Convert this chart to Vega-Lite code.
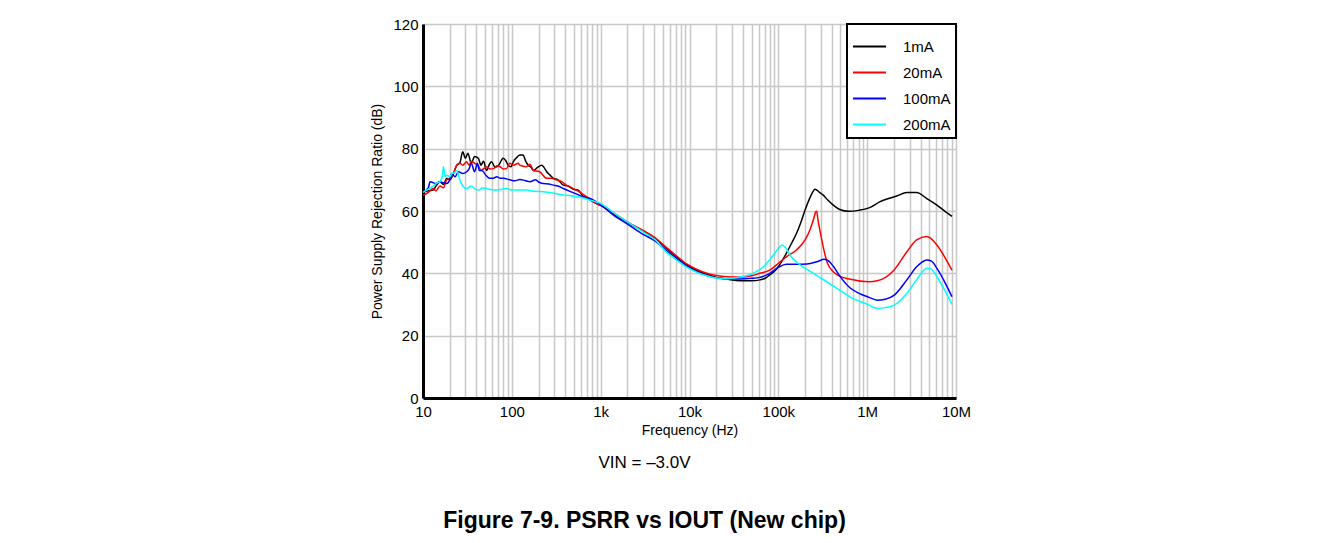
{
  "$schema": "https://vega.github.io/schema/vega-lite/v6.json",
  "width": 533,
  "height": 374,
  "autosize": {"type": "none"},
  "padding": {"left": 423, "top": 24, "right": 377, "bottom": 145},
  "background": "white",
  "config": {
    "font": "Liberation Sans",
    "view": {"stroke": "#8c8c8c", "strokeWidth": 1},
    "axis": {
      "domainColor": "black",
      "domainWidth": 3,
      "ticks": false,
      "labelFontSize": 15,
      "labelColor": "black",
      "labelFont": "Liberation Sans",
      "titleFont": "Liberation Sans",
      "titleFontSize": 14,
      "titleFontWeight": "normal",
      "titleColor": "black",
      "gridColor": "#c8c8c8",
      "gridWidth": 1.5,
      "labelFlush": false,
      "labelOverlap": false
    },
    "legend": {"strokeWidth": 2}
  },
  "title": {
    "text": "VIN = –3.0V",
    "subtitle": "Figure 7-9. PSRR vs IOUT (New chip)",
    "orient": "bottom",
    "anchor": "middle",
    "frame": "group",
    "dx": -45,
    "offset": 18,
    "font": "Liberation Sans",
    "fontSize": 17,
    "fontWeight": "normal",
    "color": "black",
    "subtitleFont": "Liberation Sans",
    "subtitleFontSize": 23,
    "subtitleFontWeight": "bold",
    "subtitleColor": "black",
    "subtitlePadding": 38
  },
  "data": {
    "values": [
      {"s":"1mA","f":10,"v":66},{"s":"1mA","f":11.5,"v":66.5},{"s":"1mA","f":13,"v":66.7},{"s":"1mA","f":14,"v":68},{"s":"1mA","f":15.5,"v":69.4},{"s":"1mA","f":17,"v":68.5},{"s":"1mA","f":18.5,"v":70.5},{"s":"1mA","f":20,"v":70},{"s":"1mA","f":22,"v":72},{"s":"1mA","f":24,"v":74.7},{"s":"1mA","f":26,"v":75.5},{"s":"1mA","f":28,"v":79},{"s":"1mA","f":30,"v":76.9},{"s":"1mA","f":32,"v":78.5},{"s":"1mA","f":35,"v":75.3},{"s":"1mA","f":38,"v":77.5},{"s":"1mA","f":42,"v":76.9},{"s":"1mA","f":45,"v":74.7},{"s":"1mA","f":48,"v":76},{"s":"1mA","f":52,"v":73},{"s":"1mA","f":56,"v":75},{"s":"1mA","f":59,"v":75.8},{"s":"1mA","f":65,"v":74},{"s":"1mA","f":71,"v":74.7},{"s":"1mA","f":80,"v":76.9},{"s":"1mA","f":86,"v":76},{"s":"1mA","f":91,"v":74.7},{"s":"1mA","f":98,"v":74.2},{"s":"1mA","f":104,"v":75.8},{"s":"1mA","f":112,"v":77},{"s":"1mA","f":123,"v":78},{"s":"1mA","f":134,"v":78},{"s":"1mA","f":143,"v":76},{"s":"1mA","f":153,"v":74.7},{"s":"1mA","f":165,"v":74},{"s":"1mA","f":175,"v":73},{"s":"1mA","f":195,"v":74},{"s":"1mA","f":217,"v":74.7},{"s":"1mA","f":230,"v":74},{"s":"1mA","f":247,"v":72.6},{"s":"1mA","f":270,"v":71.5},{"s":"1mA","f":294,"v":70.5},{"s":"1mA","f":330,"v":70},{"s":"1mA","f":380,"v":68.3},{"s":"1mA","f":430,"v":68},{"s":"1mA","f":492,"v":67},{"s":"1mA","f":560,"v":66.7},{"s":"1mA","f":640,"v":64.6},{"s":"1mA","f":720,"v":64},{"s":"1mA","f":800,"v":63.2},{"s":"1mA","f":900,"v":62.4},{"s":"1mA","f":1000,"v":61.8},{"s":"1mA","f":1500,"v":58.5},{"s":"1mA","f":2000,"v":56.3},{"s":"1mA","f":3000,"v":53.6},{"s":"1mA","f":4000,"v":51.5},{"s":"1mA","f":5500,"v":48},{"s":"1mA","f":7000,"v":45.5},{"s":"1mA","f":9300,"v":42.7},{"s":"1mA","f":12000,"v":41},{"s":"1mA","f":15700,"v":39.6},{"s":"1mA","f":20000,"v":38.7},{"s":"1mA","f":26000,"v":38.2},{"s":"1mA","f":37000,"v":37.6},{"s":"1mA","f":50000,"v":37.6},{"s":"1mA","f":62000,"v":37.9},{"s":"1mA","f":72000,"v":38.5},{"s":"1mA","f":80000,"v":39.5},{"s":"1mA","f":90000,"v":40.6},{"s":"1mA","f":100000,"v":42.1},{"s":"1mA","f":123000,"v":46.4},{"s":"1mA","f":140000,"v":49.5},{"s":"1mA","f":160000,"v":52.8},{"s":"1mA","f":180000,"v":56.5},{"s":"1mA","f":200000,"v":60.3},{"s":"1mA","f":230000,"v":64.6},{"s":"1mA","f":259000,"v":67},{"s":"1mA","f":290000,"v":66},{"s":"1mA","f":320000,"v":65.1},{"s":"1mA","f":360000,"v":63.5},{"s":"1mA","f":415000,"v":61.9},{"s":"1mA","f":490000,"v":60.5},{"s":"1mA","f":620000,"v":59.9},{"s":"1mA","f":800000,"v":60.2},{"s":"1mA","f":1050000,"v":61},{"s":"1mA","f":1400000,"v":63},{"s":"1mA","f":2150000,"v":64.8},{"s":"1mA","f":2800000,"v":65.9},{"s":"1mA","f":3600000,"v":65.9},{"s":"1mA","f":4700000,"v":64},{"s":"1mA","f":6100000,"v":61.9},{"s":"1mA","f":7600000,"v":59.8},{"s":"1mA","f":9000000,"v":58.3},

      {"s":"20mA","f":10,"v":65},{"s":"20mA","f":11.5,"v":66},{"s":"20mA","f":13,"v":67.2},{"s":"20mA","f":14,"v":66.5},{"s":"20mA","f":15.5,"v":68},{"s":"20mA","f":17,"v":67.5},{"s":"20mA","f":18.5,"v":70},{"s":"20mA","f":20,"v":70.5},{"s":"20mA","f":22,"v":72},{"s":"20mA","f":24,"v":74.7},{"s":"20mA","f":26,"v":75.3},{"s":"20mA","f":28,"v":74.7},{"s":"20mA","f":31,"v":75.8},{"s":"20mA","f":33,"v":74.7},{"s":"20mA","f":35,"v":76},{"s":"20mA","f":38,"v":75.3},{"s":"20mA","f":42,"v":74.5},{"s":"20mA","f":45,"v":73},{"s":"20mA","f":52,"v":74.2},{"s":"20mA","f":57,"v":73.5},{"s":"20mA","f":62,"v":73.6},{"s":"20mA","f":68,"v":74.5},{"s":"20mA","f":74,"v":74.2},{"s":"20mA","f":80,"v":73.5},{"s":"20mA","f":87,"v":73.6},{"s":"20mA","f":95,"v":75.3},{"s":"20mA","f":104,"v":74.7},{"s":"20mA","f":118,"v":75.3},{"s":"20mA","f":123,"v":74.7},{"s":"20mA","f":145,"v":74.2},{"s":"20mA","f":160,"v":75},{"s":"20mA","f":175,"v":73},{"s":"20mA","f":205,"v":72.6},{"s":"20mA","f":247,"v":70.5},{"s":"20mA","f":280,"v":70.5},{"s":"20mA","f":315,"v":70},{"s":"20mA","f":360,"v":69.5},{"s":"20mA","f":410,"v":68.3},{"s":"20mA","f":470,"v":67.5},{"s":"20mA","f":530,"v":66.7},{"s":"20mA","f":600,"v":65.8},{"s":"20mA","f":690,"v":64.6},{"s":"20mA","f":800,"v":63.5},{"s":"20mA","f":900,"v":62.4},{"s":"20mA","f":1000,"v":61.8},{"s":"20mA","f":1500,"v":58.8},{"s":"20mA","f":2000,"v":56.5},{"s":"20mA","f":3000,"v":53.8},{"s":"20mA","f":4000,"v":51.6},{"s":"20mA","f":5500,"v":48.3},{"s":"20mA","f":7000,"v":45.8},{"s":"20mA","f":9300,"v":43},{"s":"20mA","f":12000,"v":41.3},{"s":"20mA","f":15700,"v":40},{"s":"20mA","f":20000,"v":39.3},{"s":"20mA","f":26000,"v":38.9},{"s":"20mA","f":37000,"v":38.8},{"s":"20mA","f":50000,"v":39.2},{"s":"20mA","f":62000,"v":40},{"s":"20mA","f":80000,"v":41},{"s":"20mA","f":100000,"v":43.2},{"s":"20mA","f":123000,"v":45.3},{"s":"20mA","f":160000,"v":47.5},{"s":"20mA","f":200000,"v":50.7},{"s":"20mA","f":230000,"v":54.4},{"s":"20mA","f":250000,"v":57.5},{"s":"20mA","f":262000,"v":59.6},{"s":"20mA","f":270000,"v":59.9},{"s":"20mA","f":280000,"v":57},{"s":"20mA","f":300000,"v":52.5},{"s":"20mA","f":320000,"v":48.5},{"s":"20mA","f":355000,"v":43.5},{"s":"20mA","f":415000,"v":40.5},{"s":"20mA","f":480000,"v":39.2},{"s":"20mA","f":650000,"v":38.1},{"s":"20mA","f":1050000,"v":37.3},{"s":"20mA","f":1300000,"v":37.6},{"s":"20mA","f":2000000,"v":41},{"s":"20mA","f":2800000,"v":46.9},{"s":"20mA","f":3600000,"v":50.7},{"s":"20mA","f":4700000,"v":51.8},{"s":"20mA","f":6100000,"v":49.1},{"s":"20mA","f":7600000,"v":44.8},{"s":"20mA","f":9000000,"v":41},

      {"s":"100mA","f":10,"v":66},{"s":"100mA","f":11.5,"v":67.5},{"s":"100mA","f":12,"v":69.4},{"s":"100mA","f":14,"v":68.8},{"s":"100mA","f":15.5,"v":69.4},{"s":"100mA","f":17,"v":69},{"s":"100mA","f":18.5,"v":68.8},{"s":"100mA","f":20,"v":70},{"s":"100mA","f":21,"v":72},{"s":"100mA","f":23,"v":71},{"s":"100mA","f":25,"v":72.6},{"s":"100mA","f":28,"v":72},{"s":"100mA","f":31,"v":72.6},{"s":"100mA","f":33,"v":73.5},{"s":"100mA","f":35,"v":75.3},{"s":"100mA","f":38,"v":72.6},{"s":"100mA","f":41,"v":75.3},{"s":"100mA","f":43,"v":73},{"s":"100mA","f":46,"v":73},{"s":"100mA","f":51,"v":71.5},{"s":"100mA","f":56,"v":70.5},{"s":"100mA","f":62,"v":70.5},{"s":"100mA","f":68,"v":71},{"s":"100mA","f":74,"v":70.5},{"s":"100mA","f":80,"v":70.5},{"s":"100mA","f":95,"v":70},{"s":"100mA","f":108,"v":69.7},{"s":"100mA","f":123,"v":70.1},{"s":"100mA","f":140,"v":69.8},{"s":"100mA","f":160,"v":69.4},{"s":"100mA","f":185,"v":70},{"s":"100mA","f":200,"v":69.3},{"s":"100mA","f":225,"v":68.8},{"s":"100mA","f":260,"v":68.7},{"s":"100mA","f":294,"v":68.3},{"s":"100mA","f":330,"v":68},{"s":"100mA","f":380,"v":67.2},{"s":"100mA","f":450,"v":66.3},{"s":"100mA","f":530,"v":65.5},{"s":"100mA","f":640,"v":64.5},{"s":"100mA","f":760,"v":64},{"s":"100mA","f":870,"v":63.2},{"s":"100mA","f":1000,"v":62},{"s":"100mA","f":1500,"v":58},{"s":"100mA","f":2000,"v":55.8},{"s":"100mA","f":3000,"v":52.5},{"s":"100mA","f":4000,"v":50.6},{"s":"100mA","f":5500,"v":47.3},{"s":"100mA","f":7000,"v":45},{"s":"100mA","f":9300,"v":42.3},{"s":"100mA","f":12000,"v":40.6},{"s":"100mA","f":15700,"v":39.3},{"s":"100mA","f":20000,"v":38.6},{"s":"100mA","f":26000,"v":38.2},{"s":"100mA","f":37000,"v":38.2},{"s":"100mA","f":50000,"v":38.4},{"s":"100mA","f":62000,"v":38.7},{"s":"100mA","f":80000,"v":40},{"s":"100mA","f":100000,"v":41.9},{"s":"100mA","f":123000,"v":42.9},{"s":"100mA","f":160000,"v":42.9},{"s":"100mA","f":210000,"v":43},{"s":"100mA","f":270000,"v":43.7},{"s":"100mA","f":330000,"v":44.5},{"s":"100mA","f":370000,"v":43.9},{"s":"100mA","f":420000,"v":42.1},{"s":"100mA","f":490000,"v":39.2},{"s":"100mA","f":650000,"v":35.2},{"s":"100mA","f":850000,"v":33.3},{"s":"100mA","f":1050000,"v":32.3},{"s":"100mA","f":1290000,"v":31.4},{"s":"100mA","f":1600000,"v":31.7},{"s":"100mA","f":2020000,"v":33},{"s":"100mA","f":2800000,"v":37.9},{"s":"100mA","f":3600000,"v":42.1},{"s":"100mA","f":4700000,"v":44.3},{"s":"100mA","f":5300000,"v":43.9},{"s":"100mA","f":6100000,"v":41.6},{"s":"100mA","f":7600000,"v":36.8},{"s":"100mA","f":9000000,"v":32.5},

      {"s":"200mA","f":10,"v":66},{"s":"200mA","f":11.5,"v":67},{"s":"200mA","f":13,"v":68},{"s":"200mA","f":14,"v":68.8},{"s":"200mA","f":15.5,"v":69.4},{"s":"200mA","f":16.5,"v":71},{"s":"200mA","f":17,"v":74.2},{"s":"200mA","f":17.8,"v":71},{"s":"200mA","f":18.5,"v":71.5},{"s":"200mA","f":20,"v":71},{"s":"200mA","f":21,"v":72},{"s":"200mA","f":22.5,"v":72.2},{"s":"200mA","f":24,"v":73},{"s":"200mA","f":26,"v":70},{"s":"200mA","f":28,"v":68},{"s":"200mA","f":31,"v":67.2},{"s":"200mA","f":35,"v":68},{"s":"200mA","f":39,"v":67},{"s":"200mA","f":43,"v":66.7},{"s":"200mA","f":47,"v":67.5},{"s":"200mA","f":52,"v":67.2},{"s":"200mA","f":60,"v":66.8},{"s":"200mA","f":68,"v":66.7},{"s":"200mA","f":77,"v":67},{"s":"200mA","f":87,"v":67.2},{"s":"200mA","f":100,"v":66.7},{"s":"200mA","f":118,"v":66.7},{"s":"200mA","f":145,"v":66.7},{"s":"200mA","f":180,"v":66.3},{"s":"200mA","f":225,"v":66.2},{"s":"200mA","f":300,"v":65.7},{"s":"200mA","f":380,"v":65.1},{"s":"200mA","f":450,"v":65},{"s":"200mA","f":530,"v":64.6},{"s":"200mA","f":640,"v":64.2},{"s":"200mA","f":760,"v":63.5},{"s":"200mA","f":870,"v":63},{"s":"200mA","f":1000,"v":62.4},{"s":"200mA","f":1500,"v":58.8},{"s":"200mA","f":2000,"v":56.5},{"s":"200mA","f":3000,"v":53.3},{"s":"200mA","f":4000,"v":51},{"s":"200mA","f":5500,"v":46.8},{"s":"200mA","f":7000,"v":44.5},{"s":"200mA","f":9300,"v":42},{"s":"200mA","f":12000,"v":40.4},{"s":"200mA","f":15700,"v":39.2},{"s":"200mA","f":20000,"v":38.5},{"s":"200mA","f":26000,"v":38.3},{"s":"200mA","f":37000,"v":38.8},{"s":"200mA","f":52000,"v":40},{"s":"200mA","f":68000,"v":42.1},{"s":"200mA","f":85000,"v":45.3},{"s":"200mA","f":100000,"v":48},{"s":"200mA","f":110000,"v":49.1},{"s":"200mA","f":118000,"v":48.5},{"s":"200mA","f":140000,"v":45.3},{"s":"200mA","f":176000,"v":42.7},{"s":"200mA","f":248000,"v":40},{"s":"200mA","f":350000,"v":37.3},{"s":"200mA","f":490000,"v":34.6},{"s":"200mA","f":650000,"v":32.3},{"s":"200mA","f":850000,"v":30.9},{"s":"200mA","f":1050000,"v":29.8},{"s":"200mA","f":1290000,"v":28.8},{"s":"200mA","f":1600000,"v":29},{"s":"200mA","f":2020000,"v":29.8},{"s":"200mA","f":2800000,"v":33.6},{"s":"200mA","f":3600000,"v":37.9},{"s":"200mA","f":4700000,"v":41.6},{"s":"200mA","f":5200000,"v":41.4},{"s":"200mA","f":6100000,"v":38.9},{"s":"200mA","f":7600000,"v":34.1},{"s":"200mA","f":9000000,"v":30}
    ]
  },
  "mark": {"type": "line", "strokeWidth": 1.5, "interpolate": "monotone"},
  "encoding": {
    "x": {
      "field": "f",
      "type": "quantitative",
      "scale": {"type": "log", "domain": [10, 10000000], "nice": false},
      "axis": {
        "title": "Frequency (Hz)",
        "titlePadding": 4,
        "labelPadding": 6,
        "values": [10,20,30,40,50,60,70,80,90,100,200,300,400,500,600,700,800,900,1000,2000,3000,4000,5000,6000,7000,8000,9000,10000,20000,30000,40000,50000,60000,70000,80000,90000,100000,200000,300000,400000,500000,600000,700000,800000,900000,1000000,2000000,3000000,4000000,5000000,6000000,7000000,8000000,9000000,10000000],
        "labelExpr": "datum.value==10?'10':datum.value==100?'100':datum.value==1000?'1k':datum.value==10000?'10k':datum.value==100000?'100k':datum.value==1000000?'1M':datum.value==10000000?'10M':''"
      }
    },
    "y": {
      "field": "v",
      "type": "quantitative",
      "scale": {"domain": [0, 120], "nice": false},
      "axis": {
        "title": "Power Supply Rejection Ratio (dB)",
        "values": [0, 20, 40, 60, 80, 100, 120],
        "labelPadding": 5,
        "titlePadding": 8
      }
    },
    "color": {
      "field": "s",
      "type": "nominal",
      "sort": ["1mA", "20mA", "100mA", "200mA"],
      "scale": {"domain": ["1mA", "20mA", "100mA", "200mA"], "range": ["#000000", "#ff0000", "#0000ff", "#00ffff"]},
      "legend": {
        "title": null,
        "orient": "top-right",
        "offset": 0,
        "fillColor": "white",
        "strokeColor": "black",
        "padding": 5,
        "rowPadding": -8,
        "symbolType": "stroke",
        "symbolSize": 1089,
        "symbolStrokeWidth": 2,
        "labelFontSize": 15,
        "labelOffset": 16,
        "labelColor": "black",
        "labelFont": "Liberation Sans"
      }
    }
  }
}
